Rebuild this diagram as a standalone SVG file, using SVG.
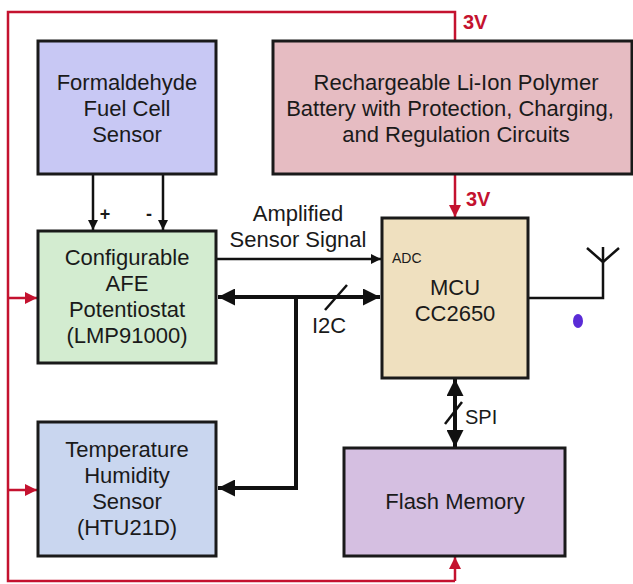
<svg xmlns="http://www.w3.org/2000/svg" width="633" height="584" viewBox="0 0 633 584">
<defs>
<style>
.box{stroke:#1a1a1a;stroke-width:3}
.t{font-family:"Liberation Sans",Arial,sans-serif;font-size:22px;fill:#1a1a1a;text-anchor:middle}
.s{font-family:"Liberation Sans",Arial,sans-serif;fill:#1a1a1a}
.red{stroke:#c4122f;stroke-width:2.5;fill:none}
.blk{stroke:#111;stroke-width:2.5;fill:none}
.bold{stroke:#111;stroke-width:4;fill:none}
.v3{font-family:"Liberation Sans",Arial,sans-serif;font-weight:bold;font-size:20px;fill:#c4122f}
</style>
<marker id="ab" viewBox="0 0 10 10" refX="10" refY="5" markerWidth="20" markerHeight="17" markerUnits="userSpaceOnUse" orient="auto-start-reverse"><path d="M0,0 L10,5 L0,10 z" fill="#111"/></marker>
<marker id="as" viewBox="0 0 10 10" refX="10" refY="5" markerWidth="15" markerHeight="10" markerUnits="userSpaceOnUse" orient="auto"><path d="M0,0 L10,5 L0,10 z" fill="#111"/></marker>
<marker id="arr" viewBox="0 0 10 10" refX="10" refY="5" markerWidth="15" markerHeight="12" markerUnits="userSpaceOnUse" orient="auto"><path d="M0,0 L10,5 L0,10 z" fill="#c4122f"/></marker>
</defs>
<rect width="633" height="584" fill="#fff"/>

<g id="connectors">
<path class="red" d="M455,40 V12 H8 V581 H455"/>
<line class="red" x1="455" y1="581" x2="455" y2="557" marker-end="url(#arr)"/>
<line class="red" x1="8" y1="298" x2="37" y2="298" marker-end="url(#arr)"/>
<line class="red" x1="8" y1="490" x2="37" y2="490" marker-end="url(#arr)"/>
<line class="red" x1="455" y1="175" x2="455" y2="217" marker-end="url(#arr)"/>
<text class="v3" x="463" y="29">3V</text>
<text class="v3" x="466" y="206">3V</text>
<line class="blk" x1="93" y1="175" x2="93" y2="230" marker-end="url(#as)"/>
<line class="blk" x1="163" y1="175" x2="163" y2="230" marker-end="url(#as)"/>
<text class="s" x="105" y="220" font-size="18" font-weight="bold" text-anchor="middle">+</text>
<text class="s" x="149" y="220" font-size="18" font-weight="bold" text-anchor="middle">-</text>
<line class="blk" x1="217" y1="259" x2="381" y2="259" marker-end="url(#as)"/>
<text class="t" x="298" y="221" font-size="20">Amplified</text>
<text class="t" x="298" y="247" font-size="20">Sensor Signal</text>
<line class="bold" x1="218" y1="297" x2="380" y2="297" marker-start="url(#ab)" marker-end="url(#ab)"/>
<line class="blk" x1="325" y1="310" x2="347" y2="285"/>
<path class="bold" d="M296,297 V488 H218" marker-end="url(#ab)"/>
<text class="t" x="329" y="333" font-size="20">I2C</text>
<line class="bold" x1="455" y1="379" x2="455" y2="447" marker-start="url(#ab)" marker-end="url(#ab)"/>
<line class="blk" x1="445" y1="424" x2="462" y2="402"/>
<text class="s" x="465" y="424" font-size="20">SPI</text>
<path class="blk" d="M528,298 H603 V247"/>
<path class="blk" d="M587,248 L603,262 L619,248"/>
</g>

<g id="sensor">
<rect class="box" x="38" y="41" width="178" height="133" fill="#c8c8f4"/>
<text class="t" x="127" y="90">Formaldehyde</text>
<text class="t" x="127" y="116">Fuel Cell</text>
<text class="t" x="127" y="142">Sensor</text>
</g>

<g id="battery">
<rect class="box" x="273" y="41" width="359" height="133" fill="#e6bcc2"/>
<text class="t" x="456" y="90">Rechargeable Li-Ion Polymer</text>
<text class="t" x="450" y="116">Battery with Protection, Charging,</text>
<text class="t" x="456" y="142">and Regulation Circuits</text>
</g>

<g id="afe">
<rect class="box" x="38" y="231" width="178" height="132" fill="#d3ecd0"/>
<text class="t" x="127" y="265">Configurable</text>
<text class="t" x="127" y="291">AFE</text>
<text class="t" x="127" y="317">Potentiostat</text>
<text class="t" x="127" y="343">(LMP91000)</text>
</g>

<g id="temp">
<rect class="box" x="38" y="422" width="178" height="134" fill="#c9d6ef"/>
<text class="t" x="127" y="457">Temperature</text>
<text class="t" x="127" y="483">Humidity</text>
<text class="t" x="127" y="509">Sensor</text>
<text class="t" x="127" y="535">(HTU21D)</text>
</g>

<g id="mcu">
<rect class="box" x="382" y="218" width="146" height="160" fill="#efe0bf"/>
<text class="s" x="392" y="263" font-size="14">ADC</text>
<text class="t" x="455" y="295">MCU</text>
<text class="t" x="455" y="321">CC2650</text>
</g>

<g id="flash">
<rect class="box" x="344" y="448" width="221" height="108" fill="#d5bfe1"/>
<text class="t" x="455" y="509">Flash Memory</text>
</g>

<ellipse cx="578" cy="321" rx="5" ry="7" fill="#5a2bd6"/>
</svg>
